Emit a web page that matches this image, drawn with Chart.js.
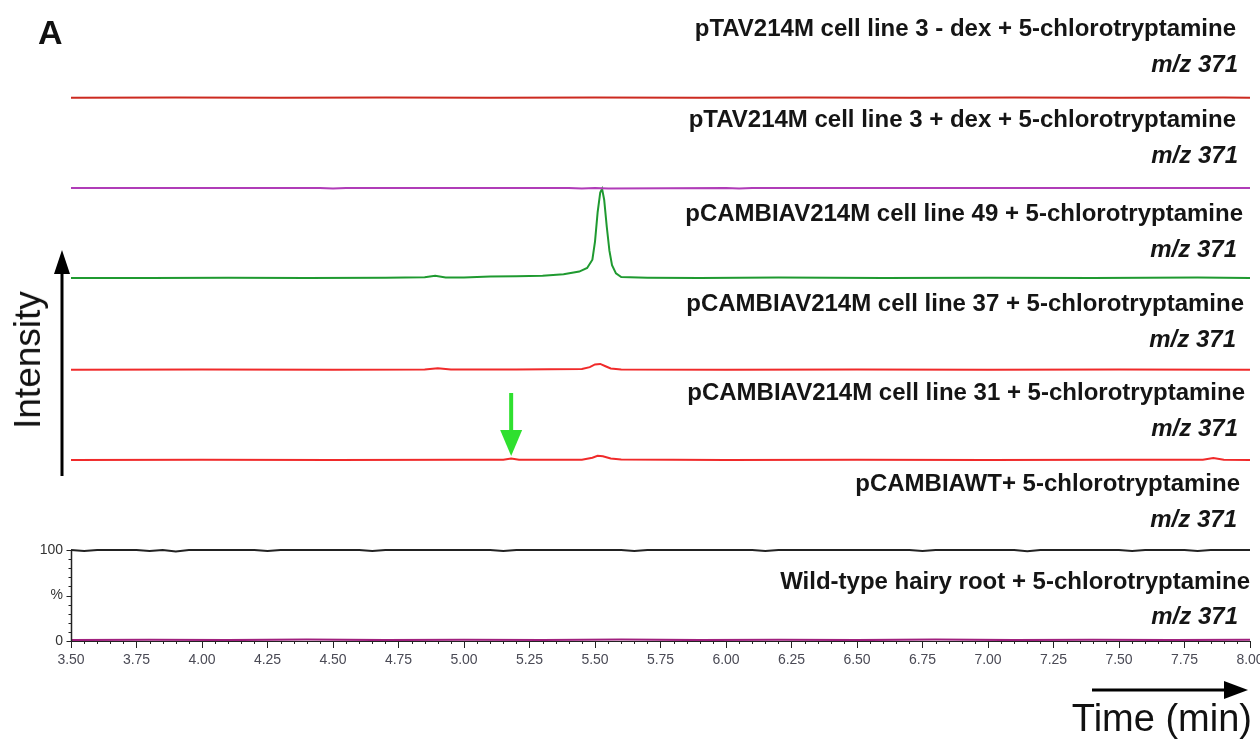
<!DOCTYPE html>
<html>
<head>
<meta charset="utf-8">
<script src="https://cdn.jsdelivr.net/npm/chart.js@4.4.0/dist/chart.umd.min.js"></script>
<style>
  body { margin: 0; background: #fff; }
  #wrap { position: relative; width: 1260px; height: 742px; overflow: hidden; font-family: "Liberation Sans", Arial, Helvetica, sans-serif; }
  #wrap canvas { position: absolute; left: 0; top: 0; }
  .lbl { position: absolute; font-weight: bold; font-size: 24px; line-height: 24px; color: #151515; white-space: nowrap; }
  .mz { font-style: italic; }
  #panel { position: absolute; left: 38px; top: 14px; font-weight: bold; font-size: 34px; line-height: 36px; color: #111; }
  #ylab { position: absolute; left: 28px; top: 360px; font-size: 37px; line-height: 40px; color: #111; transform: translate(-50%, -50%) rotate(-90deg); white-space: nowrap; }
  #xlab { position: absolute; right: 8px; top: 698px; font-size: 38px; line-height: 40px; color: #111; white-space: nowrap; }
</style>
</head>
<body>
<div id="wrap">
  <canvas id="chromChart" width="1260" height="742"></canvas>
  <div id="panel">A</div>
  <div id="ylab">Intensity</div>
  <div id="xlab">Time (min)</div>
</div>
<script>
// trace names, top to bottom
var traceNames = [
    "pTAV214M cell line 3 - dex + 5-chlorotryptamine",
    "pTAV214M cell line 3 + dex + 5-chlorotryptamine",
    "pCAMBIAV214M cell line 49 + 5-chlorotryptamine",
    "pCAMBIAV214M cell line 37 + 5-chlorotryptamine",
    "pCAMBIAV214M cell line 31 + 5-chlorotryptamine",
    "pCAMBIAWT+ 5-chlorotryptamine",
    "Wild-type hairy root + 5-chlorotryptamine"
];
var massLabel = "m/z 371";

// retention time (min) and relative intensity (%)
var dexMinusTimes = [3.5, 3.9, 4.3, 4.7, 5.1, 5.5, 5.9, 6.3, 6.7, 7.1, 7.5, 7.9, 8.0];
var dexMinusValues = [0, 0.4, 0, 0.3, 0, 0.4, 0, 0.3, 0, 0.4, 0, 0.3, 0];

var dexPlusTimes = [3.5, 4.0, 4.45, 4.5, 4.55, 5.0, 5.4, 5.45, 5.5, 5.55, 6.0, 6.05, 6.1, 6.5, 7.0, 7.5, 8.0];
var dexPlusValues = [0, 0, 0, -0.8, 0, 0, 0, -0.8, 0, -0.6, 0, -0.7, 0, 0, 0, 0, 0];

var line49Times = [3.5, 3.8, 4.1, 4.4, 4.7, 4.85, 4.89, 4.93, 5.0, 5.1, 5.2, 5.3, 5.38, 5.44, 5.47, 5.49, 5.5,
    5.51, 5.52, 5.527, 5.535, 5.545, 5.555, 5.565, 5.58, 5.6, 5.7, 5.9, 6.2, 6.6, 7.0, 7.4, 7.8, 8.0];
var line49Values = [0, 0, 0.3, 0, 0.3, 0.8, 2.5, 0.5, 0.5, 1.5, 2, 2.5, 4, 7, 11, 20, 40,
    72, 94, 98, 86, 56, 30, 14, 5, 1, 0.3, 0, 0.4, 0, 0.3, 0, 0.4, 0];

var line37Times = [3.5, 4.0, 4.5, 4.85, 4.9, 4.95, 5.2, 5.45, 5.48, 5.5, 5.52, 5.54, 5.56, 5.6, 6.0, 6.5, 7.0, 7.5, 8.0];
var line37Values = [0, 0.3, 0, 0.5, 1.8, 0.5, 0.5, 1, 3, 6, 6.5, 4, 1.5, 0.5, 0, 0.3, 0, 0.3, 0];

var line31Times = [3.5, 4.0, 4.5, 5.0, 5.15, 5.18, 5.21, 5.45, 5.49, 5.51, 5.53, 5.56, 5.6, 6.0, 6.5, 7.0, 7.5, 7.82, 7.86, 7.9, 8.0];
var line31Values = [0, 0.3, 0, 0.3, 0.3, 1.5, 0.3, 0.3, 2.5, 4.5, 4, 1.5, 0.5, 0, 0.3, 0, 0.3, 0.3, 2.2, 0.3, 0];

var wtVectorTimes = [3.5, 3.55, 3.6, 3.75, 3.8, 3.85, 3.9, 3.95, 4.2, 4.25, 4.3, 4.6, 4.65, 4.7, 5.1, 5.15, 5.2,
    5.6, 5.65, 5.7, 6.1, 6.15, 6.2, 6.7, 6.75, 6.8, 7.1, 7.15, 7.2, 7.5, 7.55, 7.6, 7.75, 7.8, 7.85, 8.0];
var wtVectorValues = [0, -1.2, 0, 0, -1, 0, -1.5, 0, 0, -1.2, 0, 0, -1, 0, 0, -1.2, 0,
    0, -1, 0, 0, -1.2, 0, 0, -1, 0, 0, -1.3, 0, 0, -1, 0, 0, -1.2, 0, 0];

var wildTypeTimes = [3.5, 3.8, 4.1, 4.4, 4.7, 5.0, 5.3, 5.6, 5.9, 6.2, 6.5, 6.8, 7.1, 7.4, 7.7, 8.0];
var wildTypeValues = [1, 1.5, 1, 1.6, 1, 1.5, 1.1, 1.6, 1, 1.5, 1, 1.6, 1, 1.5, 1, 1.4];

var timeTicks = [3.5, 3.75, 4.0, 4.25, 4.5, 4.75, 5.0, 5.25, 5.5, 5.75, 6.0, 6.25, 6.5, 6.75, 7.0, 7.25, 7.5, 7.75, 8.0];
var percentTicks = [0, 50, 100];
var percentTickLabels = ["0", "%", "100"];

// stacking offsets (in % units) so each trace sits on its own row
var traceOffsets = [597, 498, 399, 298, 199, 100, 0];
var traceColors = ["#cc2a20", "#b03cb8", "#1f9a30", "#f02a2a", "#f02a2a", "#222222", "#a0207e"];

// where the trace labels sit (px)
var titleCenters = [28, 119, 213, 303, 392, 483, 581];
var titleRights = [1236, 1236, 1243, 1244, 1245, 1240, 1250];
var mzCenters = [64, 155, 249, 339, 428, 519, 616];
var mzRights = [1238, 1238, 1237, 1236, 1238, 1237, 1238];

var allTimes = [dexMinusTimes, dexPlusTimes, line49Times, line37Times, line31Times, wtVectorTimes, wildTypeTimes];
var allValues = [dexMinusValues, dexPlusValues, line49Values, line37Values, line31Values, wtVectorValues, wildTypeValues];

var datasets = [];
for (var i = 0; i < allTimes.length; i++) {
    var pts = [];
    for (var j = 0; j < allTimes[i].length; j++) {
        pts.push({x: allTimes[i][j], y: allValues[i][j] + traceOffsets[i]});
    }
    datasets.push({
        label: traceNames[i],
        data: pts,
        borderColor: traceColors[i],
        borderWidth: 2,
        pointRadius: 0,
        tension: 0,
        fill: false
    });
}

var wrap = document.getElementById('wrap');
for (var k = 0; k < traceNames.length; k++) {
    var t = document.createElement('div');
    t.className = 'lbl';
    t.textContent = traceNames[k];
    t.style.top = (titleCenters[k] - 12) + 'px';
    t.style.right = (1260 - titleRights[k]) + 'px';
    wrap.appendChild(t);
    var m = document.createElement('div');
    m.className = 'lbl mz';
    m.textContent = massLabel;
    m.style.top = (mzCenters[k] - 12) + 'px';
    m.style.right = (1260 - mzRights[k]) + 'px';
    wrap.appendChild(m);
}

function arrowHead(ctx, tipX, tipY, dx, dy, half, len) {
    // dx,dy unit direction of arrow
    var bx = tipX - dx * len, by = tipY - dy * len;
    ctx.beginPath();
    ctx.moveTo(tipX, tipY);
    ctx.lineTo(bx - dy * half, by + dx * half);
    ctx.lineTo(bx + dy * half, by - dx * half);
    ctx.closePath();
    ctx.fill();
}

var decorPlugin = {
    id: 'decor',
    afterDraw: function(chart) {
        var ctx = chart.ctx;
        var xs = chart.scales.x, ys = chart.scales.y;
        var area = chart.chartArea;
        ctx.save();
        ctx.strokeStyle = '#222';
        ctx.lineWidth = 1;
        // minor time ticks
        for (var s = 70; s <= 160; s++) {
            if (s % 5 === 0) continue;
            var px = Math.round(xs.getPixelForValue(s * 0.05)) + 0.5;
            ctx.beginPath();
            ctx.moveTo(px, area.bottom);
            ctx.lineTo(px, area.bottom + 3);
            ctx.stroke();
        }
        // short % axis, 0..100
        var ax = Math.round(area.left) + 0.5;
        ctx.lineWidth = 1.5;
        ctx.beginPath();
        ctx.moveTo(ax, ys.getPixelForValue(0));
        ctx.lineTo(ax, ys.getPixelForValue(100));
        ctx.stroke();
        ctx.lineWidth = 1;
        for (var v = 0; v <= 100; v += 10) {
            var py = Math.round(ys.getPixelForValue(v)) + 0.5;
            var len = (v % 50 === 0) ? 5 : 3;
            ctx.beginPath();
            ctx.moveTo(ax - len, py);
            ctx.lineTo(ax, py);
            ctx.stroke();
        }
        // intensity arrow
        ctx.strokeStyle = '#000';
        ctx.fillStyle = '#000';
        ctx.lineWidth = 3;
        ctx.beginPath();
        ctx.moveTo(62, 476);
        ctx.lineTo(62, 268);
        ctx.stroke();
        arrowHead(ctx, 62, 250, 0, -1, 8, 24);
        // time arrow
        ctx.beginPath();
        ctx.moveTo(1092, 690);
        ctx.lineTo(1228, 690);
        ctx.stroke();
        arrowHead(ctx, 1248, 690, 1, 0, 9, 24);
        // green marker arrow
        var gx = xs.getPixelForValue(5.18);
        ctx.strokeStyle = '#2fe02f';
        ctx.fillStyle = '#2fe02f';
        ctx.lineWidth = 4;
        ctx.beginPath();
        ctx.moveTo(gx, 393);
        ctx.lineTo(gx, 436);
        ctx.stroke();
        arrowHead(ctx, gx, 456, 0, 1, 11, 26);
        ctx.restore();
    }
};

var chromChart = new Chart(document.getElementById('chromChart').getContext('2d'), {
    type: 'line',
    data: { datasets: datasets },
    options: {
        responsive: false,
        animation: false,
        devicePixelRatio: 1,
        layout: { padding: { top: 5, right: 10, bottom: 71, left: 0 } },
        plugins: { legend: { display: false }, tooltip: { enabled: false } },
        scales: {
            x: {
                type: 'linear',
                min: 3.5,
                max: 8.0,
                afterFit: function(scale) {
                    scale.height = 30;
                    scale.paddingLeft = 0;
                    scale.paddingRight = 0;
                },
                afterBuildTicks: function(scale) {
                    scale.ticks = timeTicks.map(function(v) { return {value: v}; });
                },
                ticks: {
                    autoSkip: false,
                    maxRotation: 0,
                    padding: 4,
                    color: '#4a4a55',
                    font: { family: '"Liberation Sans", Arial, sans-serif', size: 14 },
                    callback: function(v) { return Number(v).toFixed(2); }
                },
                grid: { drawOnChartArea: false, drawTicks: true, tickLength: 7, color: '#222' },
                border: { display: true, color: '#222', width: 1 }
            },
            y: {
                type: 'linear',
                min: 0,
                max: 699,
                afterFit: function(scale) {
                    scale.width = 71;
                    scale.paddingTop = 0;
                    scale.paddingBottom = 0;
                },
                afterBuildTicks: function(scale) {
                    scale.ticks = percentTicks.map(function(v) { return {value: v}; });
                },
                ticks: {
                    padding: 0,
                    color: '#333',
                    font: { family: '"Liberation Sans", Arial, sans-serif', size: 14 },
                    callback: function(v) {
                        var idx = percentTicks.indexOf(v);
                        return idx >= 0 ? percentTickLabels[idx] : '';
                    }
                },
                grid: { display: false },
                border: { display: false }
            }
        }
    },
    plugins: [decorPlugin]
});
</script>
</body>
</html>
